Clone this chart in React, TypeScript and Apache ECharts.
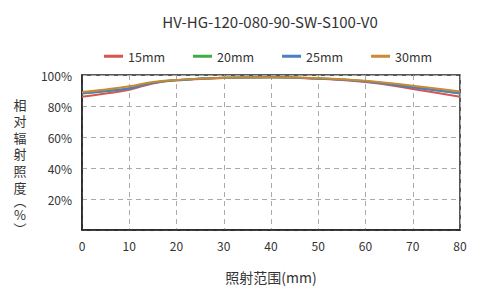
import React, { useEffect, useRef } from "react";
import * as echarts from "echarts";

const xValues = [0, 5, 10, 15, 20, 30, 40, 50, 60, 70, 80];
const seriesNames = ["15mm", "20mm", "25mm", "30mm"];
const s15 = [86, 88, 90.5, 94.5, 96.5, 98, 98.5, 97.5, 95.5, 91, 86];
const s20 = [88, 89.5, 91.5, 95, 96.7, 98.2, 98.6, 97.8, 96, 92.2, 88];
const s25 = [88.3, 89.7, 91.3, 95, 96.7, 98.2, 98.6, 97.7, 95.8, 92, 88.3];
const s30 = [89, 90.7, 92.7, 95.5, 96.8, 98.2, 98.6, 98, 96.3, 93, 89.3];
const colors = ["#d9534f", "#3fad46", "#4a7fc4", "#c88a32"];
const titleText = "HV-HG-120-080-90-SW-S100-V0";
const yNameChars = ["相", "对", "辐", "射", "照", "度"];
const yNameTail = "︵\n%\n︶";

export default function App() {
  const ref = useRef<HTMLDivElement>(null);
  useEffect(() => {
    document.body.style.margin = "0";
    const chart = echarts.init(ref.current!, null, { renderer: "svg" });
    const font = "'Noto Sans CJK SC', 'Noto Sans', sans-serif";
    const all = [s15, s20, s25, s30];
    const graphic: any[] = yNameChars.map((c, i) => ({
      type: "text",
      x: 20,
      y: 104 + i * 16.6,
      style: {
        text: c,
        fontSize: 13,
        fill: "#333",
        fontFamily: font,
        align: "center",
        verticalAlign: "middle",
      },
    }));
    graphic.push({
      type: "text",
      x: 20,
      y: 214.5,
      style: {
        text: yNameTail,
        fontSize: 13,
        lineHeight: 14,
        fill: "#333",
        fontFamily: font,
        align: "center",
        verticalAlign: "middle",
      },
    });
    chart.setOption({
      animation: false,
      textStyle: { fontFamily: font },
      title: {
        text: titleText,
        left: 265,
        textAlign: "center",
        top: 9,
        textStyle: { fontSize: 15, fontWeight: "normal", color: "#333", fontFamily: font },
      },
      legend: {
        top: 45,
        left: 99,
        width: 380,
        itemWidth: 19,
        itemHeight: 3,
        itemGap: 28,
        icon: "rect",
        textStyle: { fontSize: 12.5, color: "#333", fontFamily: font },
        data: seriesNames,
      },
      grid: {
        left: 82,
        right: 23,
        top: 75,
        bottom: 50,
        show: true,
        borderColor: "#222",
        borderWidth: 1.5,
      },
      graphic,
      xAxis: {
        type: "value",
        min: 0,
        max: 80,
        interval: 10,
        name: "照射范围(mm)",
        nameLocation: "middle",
        nameGap: 40,
        nameTextStyle: { fontSize: 14, color: "#333", fontFamily: font },
        axisLine: { lineStyle: { color: "#222", width: 1.5 } },
        axisTick: { show: false },
        axisLabel: { fontSize: 12, color: "#333", margin: 9, fontFamily: font },
        splitLine: { show: true, lineStyle: { type: [5, 4], color: "#aaa" } },
      },
      yAxis: {
        type: "value",
        min: 0,
        max: 100,
        interval: 20,
        axisLine: { lineStyle: { color: "#222", width: 1.5 } },
        axisTick: { show: false },
        axisLabel: {
          fontSize: 12,
          color: "#333",
          margin: 10,
          fontFamily: font,
          formatter: (v: number) => (v === 0 ? "" : v + "%"),
        },
        splitLine: { show: true, lineStyle: { type: [5, 4], color: "#aaa" } },
      },
      series: seriesNames.map((n, i) => ({
        name: n,
        type: "line",
        smooth: true,
        showSymbol: false,
        color: colors[i],
        lineStyle: { width: 2 },
        data: xValues.map((x, j) => [x, all[i][j]]),
      })),
    });
    return () => chart.dispose();
  }, []);
  return <div ref={ref} style={{ width: 483, height: 289 }} />;
}
